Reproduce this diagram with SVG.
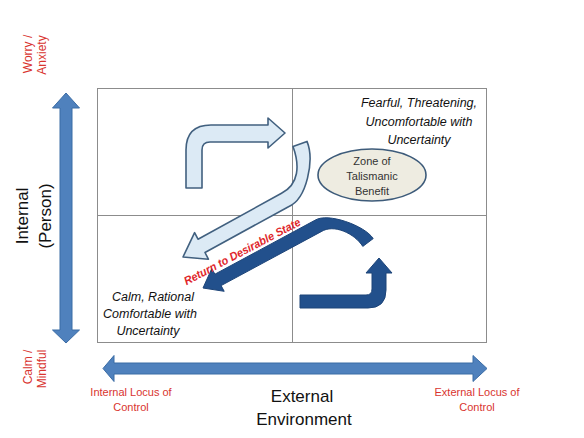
<svg xmlns="http://www.w3.org/2000/svg" width="584" height="438" viewBox="0 0 584 438">
<style>
.grid{fill:none;stroke:#8c8c8c;stroke-width:1}
.axis{fill:#4f81bd;stroke:#3b6ca5;stroke-width:1}
.light{fill:#dceaf5;stroke:#41607f;stroke-width:1.6;stroke-linejoin:round}
.dark{fill:#22508c;stroke:#1d4478;stroke-width:1;stroke-linejoin:round}
.red{font-family:"Liberation Sans",Arial,sans-serif;font-size:11px;fill:#d9342f;text-anchor:middle}
.redv{font-family:"Liberation Sans",Arial,sans-serif;font-size:12px;fill:#d9342f;text-anchor:middle}
.big{font-family:"Liberation Sans",Arial,sans-serif;font-size:17px;fill:#111;text-anchor:middle}
.it{font-family:"Liberation Sans",Arial,sans-serif;font-size:12.5px;font-style:italic;fill:#111;text-anchor:middle}
.zone{font-family:"Liberation Sans",Arial,sans-serif;font-size:11px;fill:#333;text-anchor:middle}
</style>
<rect width="584" height="438" fill="#ffffff"/>
<g id="grid">
<rect class="grid" x="97.5" y="88.5" width="389" height="254"/>
<line class="grid" x1="292.5" y1="88" x2="292.5" y2="342"/>
<line class="grid" x1="97" y1="215.5" x2="486" y2="215.5"/>
</g>
<g id="vertical-axis">
<polygon class="axis" points="66,93 79.5,108 72,108 72,330 79.5,330 66,343 52.5,330 60,330 60,108 52.5,108"/>
</g>
<g id="horizontal-axis">
<polygon class="axis" points="103,368.5 114,355.5 114,363 473,363 473,355.5 487,368.5 473,381.5 473,374 114,374 114,381.5"/>
</g>
<g id="labels">
<text class="redv" transform="translate(32,54) rotate(-90)">Worry /</text>
<text class="redv" transform="translate(46,55) rotate(-90)">Anxiety</text>
<text class="redv" transform="translate(32,367) rotate(-90)">Calm /</text>
<text class="redv" transform="translate(46,369) rotate(-90)">Mindful</text>
<text class="big" transform="translate(28,216) rotate(-90)" font-size="18">Internal</text>
<text class="big" transform="translate(51,216) rotate(-90)" font-size="18">(Person)</text>
<text class="red" x="131" y="396">Internal Locus of</text>
<text class="red" x="131" y="411">Control</text>
<text class="red" x="477" y="396">External Locus of</text>
<text class="red" x="477" y="411">Control</text>
<text class="big" x="302" y="402">External</text>
<text class="big" x="304" y="425">Environment</text>
</g>
<g id="q-fearful">
<text class="it" x="419" y="107">Fearful, Threatening,</text>
<text class="it" x="419" y="126">Uncomfortable with</text>
<text class="it" x="419" y="144">Uncertainty</text>
</g>
<g id="q-calm">
<text class="it" x="153" y="301">Calm, Rational</text>
<text class="it" x="150" y="318">Comfortable with</text>
<text class="it" x="148" y="335">Uncertainty</text>
</g>
<g id="zone">
<ellipse cx="372" cy="175" rx="54" ry="26" fill="#eeece1" stroke="#3d5b7a" stroke-width="1.6"/>
<text class="zone" x="372" y="165">Zone of</text>
<text class="zone" x="372" y="180">Talismanic</text>
<text class="zone" x="372" y="195">Benefit</text>
</g>
<g id="connectors">
<path class="light" d="M186,188 L186,150 Q186,125 211,125 L268,125 L268,118 L285,133 L268,148 L268,142 L210,142 Q202,142 202,150 L202,188 Z"/>
<path class="light" d="M307,141.4 C314.5,160 307,199 288.5,206.7 L205,252.5 L208.4,259.2 L183,257 L194.6,232.6 L198,239.2 L281.5,193.3 C299.2,184.1 299.8,165.3 293,146.6 Z"/>
<path class="dark" d="M203,288 L224.2,291.3 L221.1,285.6 L321.1,231.7 C333.7,223.5 354.8,233.6 362.8,246.4 L373.2,238.6 C365.2,225.8 327.5,212 314.9,220.3 L214.9,274.2 L211.8,268.5 Z"/>
<path class="dark" d="M300,295 L366,295 Q372,295 372,289 L372,273 L366,273 L379,258 L392,273 L386,273 L386,290 Q386,308 368,308 L300,308 Z"/>
<text transform="translate(244,255) rotate(-27.8)" text-anchor="middle" font-family="Liberation Sans,Arial,sans-serif" font-size="11.5" font-weight="bold" font-style="italic" fill="#e0262b" textLength="130" lengthAdjust="spacingAndGlyphs">Return to Desirable State</text>
</g>
</svg>
